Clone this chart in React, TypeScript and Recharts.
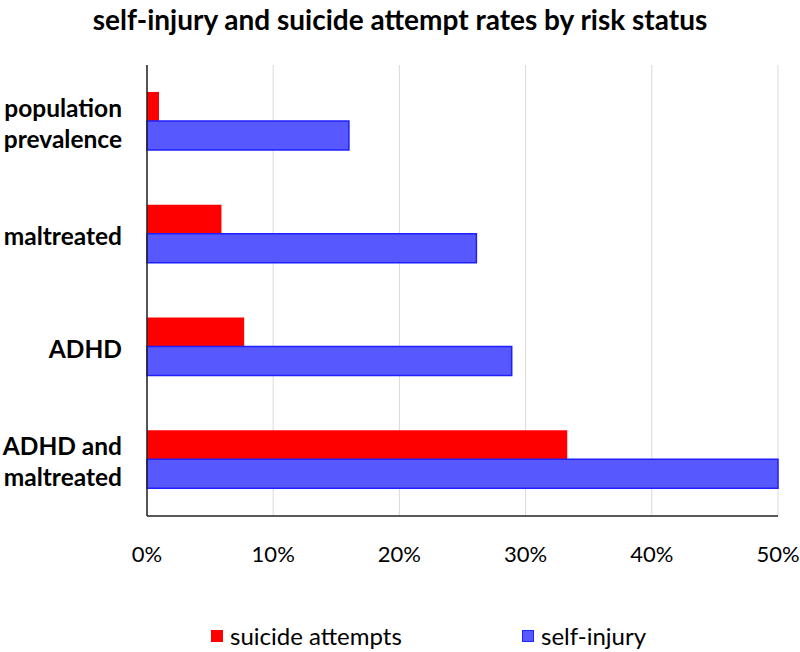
import React from "react";
import { BarChart, Bar, XAxis, YAxis, CartesianGrid } from "recharts";

const categories = ["population prevalence", "maltreated", "ADHD", "ADHD and maltreated"];
const tickLines: string[][] = [["population", "prevalence"], ["maltreated"], ["ADHD"], ["ADHD and", "maltreated"]];
const suicideAttempts = [0.0095, 0.059, 0.077, 0.333];
const selfInjury = [0.16, 0.261, 0.289, 0.5];
const xTicks = [0, 0.1, 0.2, 0.3, 0.4, 0.5];
const seriesNames = ["suicide attempts", "self-injury"];

const data = categories.map((c, i) => ({
  name: c,
  suicide: suicideAttempts[i],
  self: selfInjury[i],
}));

const FONT = "Lato, 'Open Sans', sans-serif";

const YTick = (props: any) => {
  const { x, y, payload } = props;
  const idx = categories.indexOf(payload.value);
  const lines = tickLines[idx] || [payload.value];
  const lh = 31;
  const start = -((lines.length - 1) * lh) / 2;
  return (
    <g>
      {lines.map((l, i) => (
        <text
          key={i}
          x={x}
          y={y + start + i * lh + 2}
          dy="0.36em"
          textAnchor="end"
          fontSize={24.5}
          fontWeight={700}
          fontFamily={FONT}
          fill="#000"
        >
          {l}
        </text>
      ))}
    </g>
  );
};

export default function App() {
  return (
    <div style={{ position: "absolute", left: 0, top: 0, width: 800, height: 652, background: "#fff", overflow: "hidden" }}>
      <div
        style={{
          position: "absolute",
          left: 0,
          top: 2,
          width: 800,
          textAlign: "center",
          fontFamily: FONT,
          fontWeight: 700,
          fontSize: 28,
          color: "#000",
          lineHeight: "34px",
        }}
      >
        self-injury and suicide attempt rates by risk status
      </div>
      <BarChart
        width={800}
        height={652}
        data={data}
        layout="vertical"
        margin={{ top: 65, right: 22, bottom: 86, left: 0 }}
        barCategoryGap="23.9%"
        barGap={0}
      >
        <CartesianGrid horizontal={false} vertical={true} stroke="#d9d9d9" strokeWidth={1} />
        <XAxis
          type="number"
          domain={[0, 0.5]}
          ticks={xTicks}
          tickFormatter={(v: number) => `${Math.round(v * 100)}%`}
          axisLine={{ stroke: "#222", strokeWidth: 1.5 }}
          tickLine={false}
          tickSize={0}
          tickMargin={30}
          height={50}
          tick={{ fontSize: 22, fontFamily: FONT, fill: "#000" }}
          interval={0}
        />
        <YAxis
          type="category"
          dataKey="name"
          width={147}
          axisLine={{ stroke: "#222", strokeWidth: 1.5 }}
          tickLine={false}
          tickSize={0}
          tickMargin={25}
          tick={<YTick />}
          interval={0}
        />
        <Bar dataKey="suicide" name={seriesNames[0]} fill="#ff0000" isAnimationActive={false} />
        <Bar dataKey="self" name={seriesNames[1]} fill="#5858ff" stroke="#1f1fff" strokeWidth={1.5} isAnimationActive={false} />
      </BarChart>
      <div
        style={{
          position: "absolute",
          left: 0,
          top: 623,
          width: 800,
          display: "flex",
          fontFamily: FONT,
          fontSize: 24,
          color: "#000",
          lineHeight: "26px",
        }}
      >
        <div style={{ marginLeft: 211, width: 311, display: "flex", alignItems: "center" }}>
          <span style={{ width: 12, height: 12, background: "#ff0000", display: "inline-block", marginRight: 7 }} />
          <span>{seriesNames[0]}</span>
        </div>
        <div style={{ display: "flex", alignItems: "center" }}>
          <span style={{ width: 10, height: 10, background: "#5858ff", border: "1px solid #1f1fff", display: "inline-block", marginRight: 7 }} />
          <span>{seriesNames[1]}</span>
        </div>
      </div>
    </div>
  );
}
